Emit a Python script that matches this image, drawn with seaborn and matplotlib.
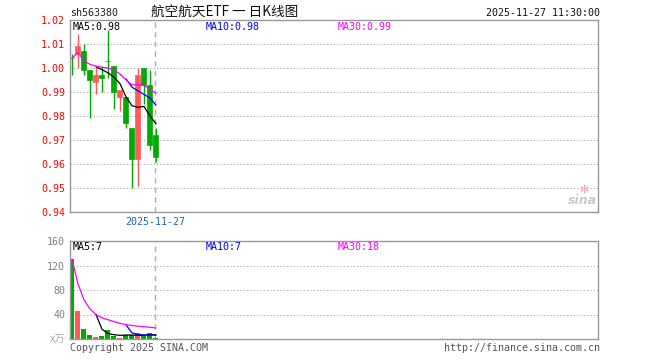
" 航空航天ETF 日K线图 - candlestick + volume"

import numpy as np
import pandas as pd
import matplotlib
matplotlib.use('Agg')
import matplotlib.pyplot as plt
import seaborn as sns

nan = np.nan

# Daily candles
opens  = [1.004, 1.006, 1.007, 0.999, 0.994, 0.997, 1.003, 1.001, 0.988, 0.988, 0.975, 0.962, 1.000, 0.993, 0.972]
highs  = [1.006, 1.014, 1.010, 0.999, 1.001, 1.001, 1.016, 1.001, 0.991, 0.988, 0.975, 1.000, 1.000, 0.999, 0.975]
lows   = [0.997, 1.000, 0.997, 0.979, 0.989, 0.990, 0.996, 0.983, 0.982, 0.975, 0.950, 0.951, 0.985, 0.966, 0.961]
closes = [1.004, 1.009, 0.999, 0.995, 0.997, 0.996, 1.003, 0.990, 0.991, 0.977, 0.962, 0.997, 0.993, 0.968, 0.963]

# Moving averages of price
ma5  = [nan, nan, nan, nan, 1.0005, 0.9993, 0.998, 0.9962, 0.9935, 0.988, 0.9843, 0.9836, 0.984, 0.980, 0.9768]
ma10 = [nan] * 9 + [0.9955, 0.992, 0.9905, 0.989, 0.9875, 0.9845]
ma30 = [1.004, 1.0065, 1.003, 1.0015, 1.0008, 1.0003, 1.000, 0.9992, 0.9975, 0.995, 0.993, 0.993, 0.9928, 0.991, 0.9895]

# Volume (x万) and its moving averages
vols  = [130, 46, 16.8, 6.5, 3.8, 4.9, 14.7, 5.5, 1.8, 6, 6, 9.5, 4.9, 9.5, 2.2]
vma5  = [nan, nan, nan, nan, 40, 16, 9, 7, 6, 6.5, 6.5, 6, 6, 7, 6.5]
vma10 = [nan] * 9 + [23, 10, 7.5, 6.5, 6.5, 6.5]
vma30 = [130, 90, 64, 49, 40, 34.5, 31.5, 28.5, 25.5, 23.5, 22, 21, 20, 19.2, 18]

price_ticks = [0.94, 0.95, 0.96, 0.97, 0.98, 0.99, 1.00, 1.01, 1.02]
vol_ticks = [0, 40, 80, 120, 160]
vol_labels = ['x万', '40', '80', '120', '160']

code = 'sh563380'
title = '航空航天ETF 一 日K线图'
stamp = '2025-11-27 11:30:00'
last_date = '2025-11-27'
ma_labels = ['MA5:0.98', 'MA10:0.98', 'MA30:0.99']
vma_labels = ['MA5:7', 'MA10:7', 'MA30:18']

RED = '#ff5a5a'
GREEN = '#00aa00'
MA_COLORS = ['#000000', '#0000ff', '#ff00ff']
FRAME = '#999999'
MONO = 'DejaVu Sans Mono'

sns.set_style('white')
plt.rcParams['font.family'] = ['DejaVu Sans Mono', 'Noto Sans CJK SC']

df = pd.DataFrame({'o': opens, 'h': highs, 'l': lows, 'c': closes, 'v': vols,
                   'ma5': ma5, 'ma10': ma10, 'ma30': ma30,
                   'vma5': vma5, 'vma10': vma10, 'vma30': vma30})
df['i'] = np.arange(len(df))
colors = [RED if c > o else GREEN for o, c in zip(df.o, df.c)]

W, H = 660, 360
fig = plt.figure(figsize=(6.6, 3.6), dpi=100)


def box(x0, y0, x1, y1):
    return [x0 / W, 1 - y1 / H, (x1 - x0) / W, (y1 - y0) / H]


def px(x, y):
    return x / W, 1 - y / H


ax = fig.add_axes(box(70, 20, 598, 212))
axv = fig.add_axes(box(70, 241, 598, 339))

xlim = (-0.33, 87.67)
mark_x = len(df) - 1 - 0.15

# candles
ax.vlines(df.i, df.l, df.h, colors=colors, lw=1)
bottoms = np.minimum(df.o, df.c)
heights = np.abs(df.c - df.o)
ax.bar(df.i, heights, bottom=bottoms, width=0.83, color=colors,
       edgecolor=colors, linewidth=0.5)
for col, cl in zip(['ma5', 'ma10', 'ma30'], MA_COLORS):
    d = df.dropna(subset=[col])
    sns.lineplot(data=d, x='i', y=col, ax=ax, color=cl, lw=0.9,
                 estimator=None, sort=False)

# volume
axv.bar(df.i, df.v, width=0.83, color=colors, linewidth=0)
for col, cl in zip(['vma5', 'vma10', 'vma30'], MA_COLORS):
    d = df.dropna(subset=[col])
    sns.lineplot(data=d, x='i', y=col, ax=axv, color=cl, lw=0.9,
                 estimator=None, sort=False)

ax.set_ylim(0.94, 1.02)
axv.set_ylim(0, 160)
for a, ticks in [(ax, price_ticks), (axv, vol_ticks)]:
    a.set_xlim(*xlim)
    a.set_xticks([])
    a.set_xlabel('')
    a.set_ylabel('')
    a.set_yticks(ticks)
    for t in ticks[1:-1]:
        a.axhline(t, color='#aaaaaa', lw=0.8, ls=(0, (1, 2)), zorder=0)
    a.axvline(mark_x, color='#b0b0b0', lw=1, ls=(0, (4, 3)), zorder=0)
    for s in a.spines.values():
        s.set_color(FRAME)
        s.set_linewidth(1)
    a.tick_params(axis='y', length=0, pad=3.5, labelsize=7.2)

ax.set_yticklabels([f'{t:.2f}' for t in price_ticks], color='#ff0000')
axv.set_yticklabels(vol_labels, color='#808080')
for lab in axv.get_yticklabels():
    if '万' in lab.get_text():
        lab.set_fontfamily(['Noto Sans CJK SC'])
        lab.set_color('#aaaaaa')
        lab.set_fontsize(7.5)

# header
fig.text(*px(70, 13), code, fontsize=7.2, va='center', ha='left', color='#222222')
fig.text(*px(225, 12), title, fontsize=9.8, va='center', ha='center',
         family=['Noto Sans CJK SC'], color='#111111')
fig.text(*px(600, 13), stamp, fontsize=7.2, va='center', ha='right', color='#111111')

# MA legends
for (x, lbl, cl) in zip([73, 206, 338], ma_labels, MA_COLORS):
    fig.text(*px(x, 27), lbl, fontsize=7.2, va='center', ha='left', color=cl)
for (x, lbl, cl) in zip([73, 206, 338], vma_labels, MA_COLORS):
    fig.text(*px(x, 247), lbl, fontsize=7.2, va='center', ha='left', color=cl)

# date under the marker line
fig.text(*px(155, 222), last_date, fontsize=7.2, va='center', ha='center', color='#1f64b4')

# watermark
fig.text(*px(597, 201), 'sina', fontsize=9, va='center', ha='right',
         style='italic', weight='bold', color='#c8c8c8', family=['DejaVu Sans'])
fig.text(*px(584, 190), '✻', fontsize=8, va='center', ha='center',
         color='#f0a0a0', family=['DejaVu Sans'])

# footer
fig.text(*px(70, 348), 'Copyright 2025 SINA.COM', fontsize=7.2, va='center', ha='left', color='#555555')
fig.text(*px(600, 348), 'http://finance.sina.com.cn', fontsize=7.2, va='center', ha='right', color='#555555')

fig.savefig('out.png', dpi=100)
